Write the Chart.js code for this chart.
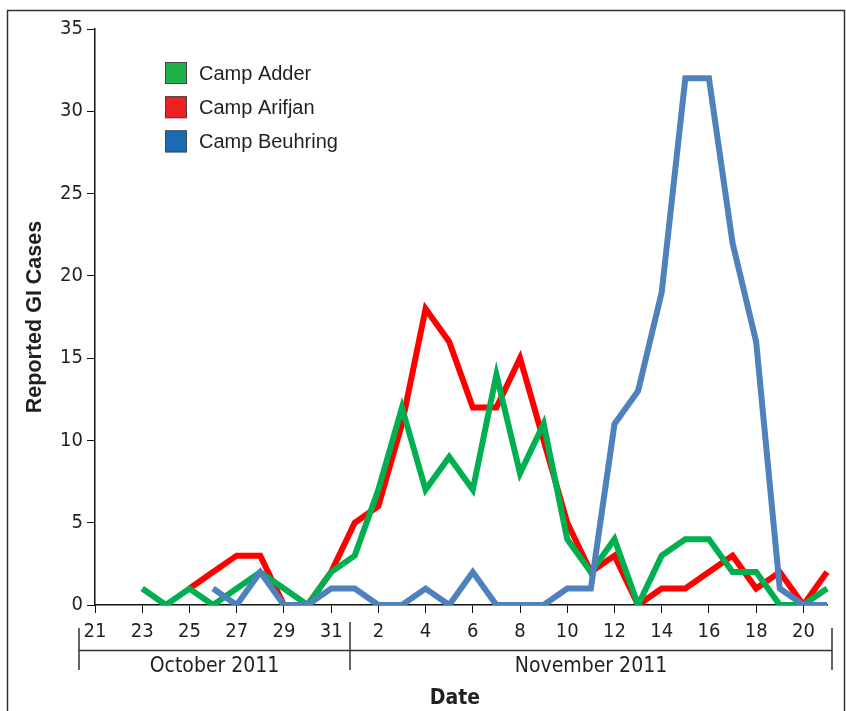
<!DOCTYPE html>
<html>
<head>
<meta charset="utf-8">
<script src="https://cdn.jsdelivr.net/npm/chart.js@4.4.0/dist/chart.umd.min.js"></script>
<style>
html, body { margin: 0; padding: 0; background: #fff; }
#wrap { width: 846px; height: 711px; }
</style>
</head>
<body>
<div id="wrap"><canvas id="giChart"></canvas></div>
<script>
// days Oct 21 .. Nov 21, 2011
var dayLabels = ['21','22','23','24','25','26','27','28','29','30','31',
    '1','2','3','4','5','6','7','8','9','10','11','12','13','14','15','16','17','18','19','20','21'];
var monthNames = ['October 2011', 'November 2011'];
var yTicks = [0, 5, 10, 15, 20, 25, 30, 35];

var campAdder = [null, null, 1, 0, 1, 0, 1, 2, 1, 0, 2,
    3, 7, 12, 7, 9, 7, 14, 8, 11, 4, 2, 4, 0, 3, 4, 4, 2, 2, 0, 0, 1];
var campArifjan = [null, null, null, null, 1, 2, 3, 3, 0, 0, 2,
    5, 6, 11, 18, 16, 12, 12, 15, 10, 5, 2, 3, 0, 1, 1, 2, 3, 1, 2, 0, 2];
var campBeuhring = [null, null, null, null, null, 1, 0, 2, 0, 0, 1,
    1, 0, 0, 1, 0, 2, 0, 0, 0, 1, 1, 11, 13, 19, 32, 32, 22, 16, 1, 0, 0];

var seriesNames = ['Camp Adder', 'Camp Arifjan', 'Camp Beuhring'];
var lineColors = ['#00b050', '#ff0000', '#4f81bd'];
var legendColors = ['#21b14b', '#ed2024', '#1b6cb5'];

var ink = '#231f20';
var narrow = '"DejaVu Sans Condensed", "Liberation Sans", sans-serif';
var regular = '"Liberation Sans", Arial, sans-serif';

// frame, legend, month bracket and axis title
var extras = {
    id: 'extras',
    afterDraw: function (chart) {
        var c = chart.ctx;
        var x = chart.scales.x;
        c.save();
        c.strokeStyle = '#333';
        c.lineWidth = 1.5;
        c.strokeRect(7.5, 10.5, 837, 760);

        // legend
        c.font = '20px ' + regular;
        c.textBaseline = 'middle';
        c.textAlign = 'left';
        for (var i = 0; i < seriesNames.length; i++) {
            var ly = 62 + i * 34.2;
            c.fillStyle = legendColors[i];
            c.fillRect(165, ly, 22, 22);
            c.strokeStyle = '#444';
            c.lineWidth = 1;
            c.strokeRect(165.5, ly + 0.5, 21, 21);
            c.fillStyle = ink;
            c.fillText(seriesNames[i], 199, ly + 12);
        }

        // month bracket
        var left = x.getPixelForValue(0) - 16;
        var mid = x.getPixelForValue(10) + 0.8 * (x.getPixelForValue(11) - x.getPixelForValue(10));
        var right = x.getPixelForValue(31) + 5;
        c.strokeStyle = '#333';
        c.lineWidth = 1.5;
        c.beginPath();
        c.moveTo(left, 650.5); c.lineTo(right, 650.5);
        c.moveTo(left, 628); c.lineTo(left, 670);
        c.moveTo(mid, 622); c.lineTo(mid, 670);
        c.moveTo(right, 628); c.lineTo(right, 670);
        c.stroke();

        c.fillStyle = ink;
        c.textAlign = 'center';
        c.font = '21px ' + narrow;
        c.fillText(monthNames[0], (left + mid) / 2, 667);
        c.fillText(monthNames[1], (mid + right) / 2, 667);
        c.font = 'bold 21px ' + narrow;
        c.fillText('Date', 455, 699);
        c.restore();
    }
};

var ctx = document.getElementById('giChart').getContext('2d');
var giChart = new Chart(ctx, {
    type: 'line',
    data: {
        labels: dayLabels,
        datasets: [
            { label: seriesNames[0], data: campAdder, borderColor: lineColors[0], order: 1 },
            { label: seriesNames[1], data: campArifjan, borderColor: lineColors[1], order: 2 },
            { label: seriesNames[2], data: campBeuhring, borderColor: lineColors[2], order: 0 }
        ]
    },
    options: {
        responsive: true,
        maintainAspectRatio: false,
        animation: false,
        layout: { padding: { left: 0, right: 19, top: 29, bottom: 0 } },
        elements: {
            line: { borderWidth: 6, tension: 0, fill: false },
            point: { radius: 0, hoverRadius: 0 }
        },
        plugins: {
            legend: { display: false },
            tooltip: { enabled: false }
        },
        scales: {
            x: {
                offset: false,
                border: { display: true, color: '#111', width: 1.5 },
                grid: {
                    drawOnChartArea: false,
                    drawTicks: true,
                    tickLength: 8,
                    color: function (c) { return c.index % 2 === 0 ? '#111' : 'rgba(0,0,0,0)'; }
                },
                ticks: {
                    autoSkip: false,
                    maxRotation: 0,
                    padding: 7,
                    color: ink,
                    font: { size: 20, family: narrow },
                    callback: function (v, i) { return i % 2 === 0 ? dayLabels[i] : ''; }
                },
                afterFit: function (s) { s.height = 106; }
            },
            y: {
                min: 0,
                max: 35,
                border: { display: true, color: '#111', width: 1.5 },
                grid: { drawOnChartArea: false, drawTicks: true, tickLength: 8, color: '#111' },
                ticks: {
                    stepSize: 5,
                    padding: 4,
                    color: ink,
                    font: { size: 20, family: narrow },
                    callback: function (v) { return yTicks.indexOf(v) >= 0 ? String(v) : ''; }
                },
                title: {
                    display: true,
                    text: 'Reported GI Cases',
                    color: ink,
                    font: { size: 21.5, weight: 'bold', family: regular },
                    padding: { top: 22, bottom: 0 }
                },
                afterFit: function (s) { s.width = 95; }
            }
        }
    },
    plugins: [extras]
});
</script>
</body>
</html>
